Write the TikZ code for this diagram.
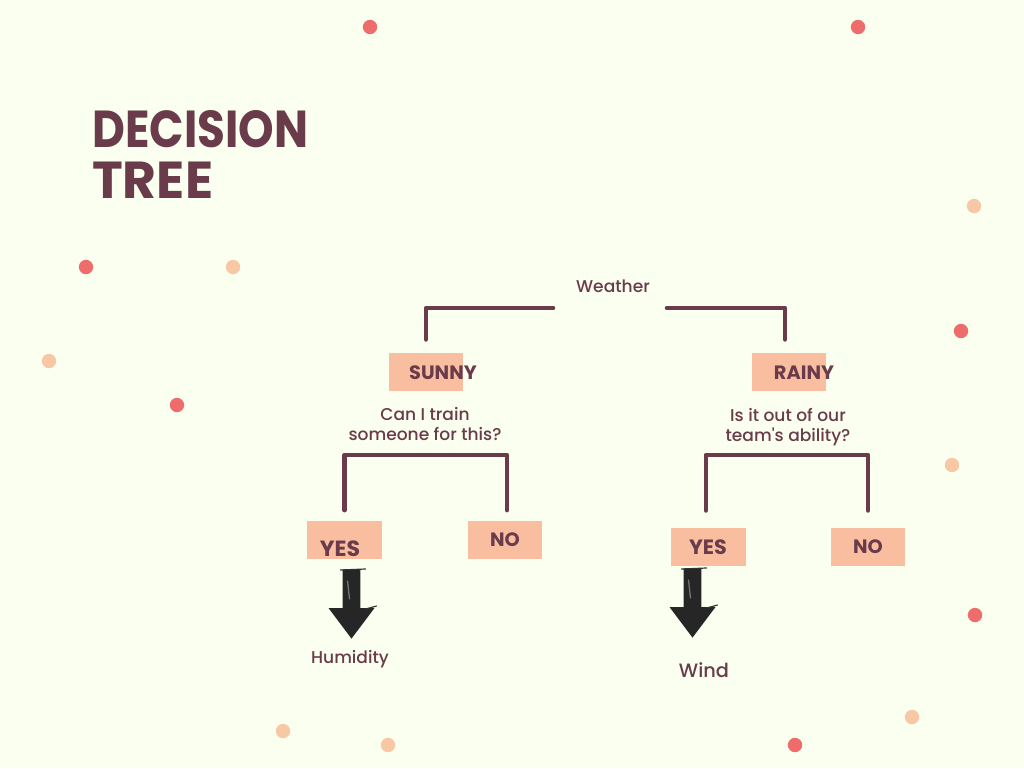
\documentclass[tikz,border=0pt]{standalone}
\usepackage{fontspec}
\setmainfont{Poppins}
\newfontfamily\medfont{Poppins Medium}
\usetikzlibrary{shapes.arrows}
\definecolor{paper}{HTML}{FAFFF0}
\definecolor{plum}{HTML}{6A3B4A}
\definecolor{salmon}{HTML}{F9BDA0}
\definecolor{dotred}{HTML}{EE6C6C}
\definecolor{dotpeach}{HTML}{F8C8A5}

\begin{document}
\begin{tikzpicture}[x=0.75pt, y=-0.75pt,
    box/.style={rectangle, fill=salmon, minimum width=56pt, minimum height=28.5pt, inner sep=0pt},
    tag/.style={text=plum, font=\fontsize{14.5}{17}\selectfont\bfseries, inner sep=0pt},
    title/.style={text=plum, font=\fontsize{39}{46}\selectfont\bfseries, anchor=west, inner sep=0pt},
    say/.style={text=plum, font=\fontsize{12.8}{15}\medfont, align=center, inner sep=0pt},
    bracket/.style={draw=plum, line width=3.5pt, line cap=round, line join=round},
    sketcharrow/.style={single arrow, fill=black!85, shape border rotate=270, minimum height=52pt, inner sep=6.5pt, single arrow head extend=10.5pt, single arrow tip angle=74},
    scratch/.style={draw=black!80, line width=0.9pt, line cap=round},
    streak/.style={draw=black!55, line width=1pt, line cap=round}]

\useasboundingbox[fill=paper] (0,0) rectangle (1024,768);

% Dots
\foreach \px/\py in {370/27, 858/27, 86/267, 961/331, 177/405, 975/615, 795/745}
    \fill[dotred] (\px,\py) circle (5.4pt);
\foreach \px/\py in {974/206, 233/267, 49/361, 952/465, 283/731, 388/745, 912/717}
    \fill[dotpeach] (\px,\py) circle (5.4pt);

% Nodes
\node [title, xscale=0.87, transform shape] (decision) at (92,129) {DECISION};
\node [title] (tree) at (92,180) {TREE};

\node [say] (weather) at (613,286) {Weather};
\coordinate (weatherl) at (553,308);
\coordinate (weatherr) at (667,308);

\node [box] (sunny) at (426,372) {};
\node [box] (rainy) at (789,372) {};
\node [tag] (sunnytag) at (443,373) {SUNNY};
\node [tag] (rainytag) at (804,373) {RAINY};

\node [say] (train) at (425,424) {Can I train\\someone for this?};
\node [say] (ability) at (788,427.5) {Is it out of our\\team's ability?};
\coordinate (trainfork) at (426,455);
\coordinate (abilityfork) at (787,455);

\node [box] (yesa) at (344.5,540) {};
\node [box] (noa) at (505,540) {};
\node [box] (yesb) at (708.5,547) {};
\node [box] (nob) at (868,547) {};
\node [tag, font=\fontsize{16.5}{17}\selectfont\bfseries] (yesatag) at (340,549) {YES};
\node [tag] (noatag) at (505,540) {NO};
\node [tag, font=\fontsize{15.5}{17}\selectfont\bfseries] (yesbtag) at (708,547) {YES};
\node [tag] (nobtag) at (868,547) {NO};

\node [sketcharrow] (arrowa) at (351.5,598) {};
\node [sketcharrow] (arrowb) at (692.5,597) {};

\node [say] (humidity) at (350,659) {Humidity};
\node [say, font=\fontsize{14.5}{16}\medfont] (wind) at (704,670) {Wind};

% Rough strokes on the arrows
\foreach \sketch in {arrowa, arrowb} {
    \draw [scratch] ([shift={(-11,1)}]\sketch.tail) -- ([shift={(14,0)}]\sketch.tail);
    \draw [scratch] ([shift={(14,-30)}]\sketch.tip) -- ([shift={(25,-33)}]\sketch.tip);
    \draw [streak] ([shift={(-4,12)}]\sketch.tail) -- ([shift={(-2,30)}]\sketch.tail);
}

% Arrows
\draw [bracket, shorten >=10pt] (weatherl) -| (sunny.north);
\draw [bracket, shorten >=10pt] (weatherr) -| ([xshift=-3pt]rainy.north);
\draw [bracket, shorten <=8pt, shorten >=8pt] (yesa.north) |- (trainfork) -| ([xshift=1.5pt]noa.north);
\draw [bracket, shorten <=13pt, shorten >=13pt] ([xshift=-2pt]yesb.north) |- (abilityfork) -| (nob.north);

\end{tikzpicture}
\end{document}
